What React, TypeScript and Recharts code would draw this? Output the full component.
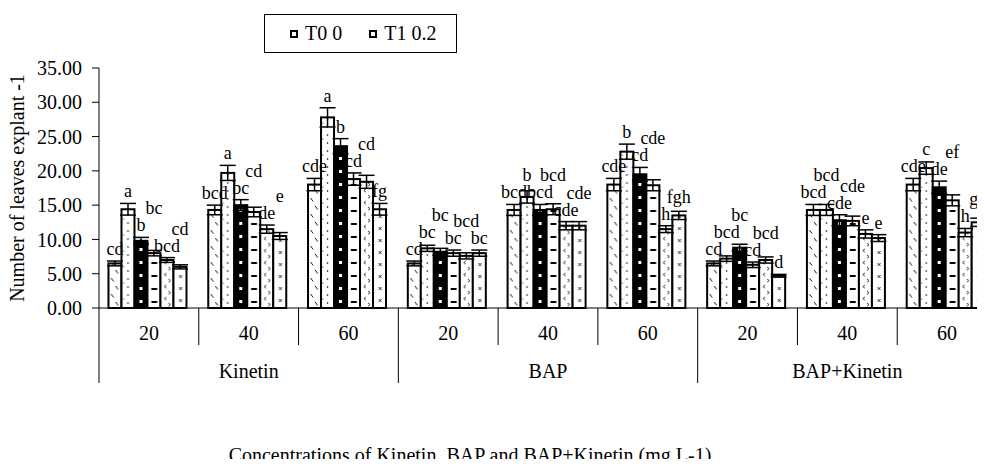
import React from 'react';
import { Bar, BarChart, ErrorBar, LabelList, XAxis, YAxis } from 'recharts';

const concentrations = ['20', '40', '60', '20', '40', '60', '20', '40', '60'];
const hormones = ['Kinetin', 'BAP', 'BAP+Kinetin'];
const seriesNames = ['T0 0', 'T1 0.2', 'T2 0.4', 'T3 0.6', 'T4 0.8', 'T5 1.0'];
const yTicks = [0, 5, 10, 15, 20, 25, 30, 35];

// mean number of leaves per explant
const t0 = [6.5, 14.3, 18.0, 6.5, 14.3, 18.0, 6.5, 14.3, 18.0];
const t1 = [14.4, 19.7, 27.8, 8.7, 16.2, 22.8, 7.2, 14.3, 20.4];
const t2 = [9.8, 15.0, 23.6, 8.2, 14.3, 19.5, 8.8, 12.8, 17.6];
const t3 = [8.0, 14.0, 18.8, 8.0, 14.4, 17.9, 6.3, 12.7, 15.7];
const t4 = [7.0, 11.5, 18.4, 7.6, 12.0, 11.5, 7.0, 10.8, 11.0];
const t5 = [6.0, 10.5, 14.4, 8.0, 12.0, 13.5, 4.7, 10.2, 12.5];

// standard errors
const t0Err = [0.35, 0.7, 0.9, 0.35, 0.8, 0.9, 0.35, 0.8, 0.9];
const t1Err = [0.85, 1.1, 1.4, 0.45, 0.9, 1.1, 0.4, 0.8, 0.9];
const t2Err = [0.5, 0.8, 1.1, 0.5, 0.8, 1.0, 0.5, 0.8, 0.9];
const t3Err = [0.4, 0.7, 0.9, 0.45, 0.8, 0.8, 0.4, 0.7, 0.8];
const t4Err = [0.35, 0.6, 0.95, 0.45, 0.6, 0.5, 0.45, 0.6, 0.6];
const t5Err = [0.3, 0.5, 0.85, 0.45, 0.6, 0.6, 0.2, 0.5, 0.6];

// significance letters
const t0Sig = ['cd', 'bcd', 'cde', 'cd', 'bcd', 'cde', 'cd', 'bcd', 'cde'];
const t1Sig = ['a', 'a', 'a', 'bc', 'b', 'b', 'bcd', 'bcd', 'c'];
const t2Sig = ['b', 'bc', 'b', 'bc', 'bcd', 'cd', 'bc', 'cde', 'de'];
const t3Sig = ['bc', 'cd', 'cd', 'bc', 'bcd', 'cde', 'cd', 'cde', 'ef'];
const t4Sig = ['bcd', 'de', 'cd', 'bcd', 'cde', 'h', 'bcd', 'e', 'h'];
const t5Sig = ['cd', 'e', 'fg', 'bc', 'cde', 'fgh', 'd', 'e', 'gh'];

const values = [t0, t1, t2, t3, t4, t5];
const errors = [t0Err, t1Err, t2Err, t3Err, t4Err, t5Err];
const letters = [t0Sig, t1Sig, t2Sig, t3Sig, t4Sig, t5Sig];

const data = concentrations.map((conc, i) => {
  const row: any = { conc, group: hormones[Math.floor(i / 3)] };
  values.forEach((v, k) => {
    row[`v${k}`] = v[i];
    row[`e${k}`] = errors[k][i];
    row[`s${k}`] = letters[k][i];
  });
  return row;
});

const FONT = 'Liberation Serif';
const CHART_W = 1010;
const CHART_H = 467;
const MARGIN = { top: 68, right: 13, bottom: 0, left: 0 };
const Y_W = 99;
const X_H = 159;
const PLOT_W = CHART_W - MARGIN.left - MARGIN.right - Y_W;
const PLOT_H = CHART_H - MARGIN.top - MARGIN.bottom - X_H;
const BAND = PLOT_W / concentrations.length;
const PX_PER_UNIT = PLOT_H / 35;
const BAR_STEP = (BAND * 0.81) / seriesNames.length;
const LETTER_SIZE = 18;

// stagger letters that would collide with a neighbour's letter
const lifts: number[][] = seriesNames.map(() => concentrations.map(() => 0));
concentrations.forEach((_, i) => {
  const finals: number[] = [];
  seriesNames.forEach((__, k) => {
    const base = -(values[k][i] + errors[k][i]) * PX_PER_UNIT;
    let y = base;
    const wk = letters[k][i].length * LETTER_SIZE * 0.48;
    for (let j = 0; j < k; j++) {
      const wj = letters[j][i].length * LETTER_SIZE * 0.48;
      if ((k - j) * BAR_STEP < (wj + wk) / 2 + 1 && Math.abs(finals[j] - y) < 17) {
        y = Math.min(y, finals[j] - 17);
      }
    }
    finals.push(y);
    lifts[k][i] = base - y;
  });
});

const makeShape = (kind: number) => (props: any) => {
  const { x, y, width: w, height: h } = props;
  if (!h || h <= 0) return <g />;
  const id = `pat${kind}-${Math.round(x * 10)}`;
  let step = 12;
  let bg = '#fff';
  let marks: React.ReactNode = null;
  if (kind === 0) {
    step = 16;
    marks = (
      <path d={`M${w * 0.2} 2 l2.5 3.5 M${w * 0.55} 10 l2.5 3.5`} stroke="#000" strokeWidth={0.9} fill="none" />
    );
  } else if (kind === 1) {
    step = 16;
    marks = (
      <>
        <circle cx={w * 0.5} cy={3} r={0.8} fill="#000" />
        <circle cx={w * 0.5} cy={11} r={0.8} fill="#000" />
        <circle cx={w * 0.15} cy={7} r={0.6} fill="#000" />
      </>
    );
  } else if (kind === 2) {
    step = 13;
    bg = '#000';
    marks = <rect x={w / 2 - 1.5} y={5} width={3} height={3} fill="#fff" />;
  } else if (kind === 3) {
    step = 13;
    marks = <rect x={w * 0.3} y={6} width={w * 0.45} height={2} fill="#000" />;
  } else if (kind === 4) {
    marks = (
      <path
        d={`M${w * 0.3 + 2} 1 l-2 1.6 l2 1.6 M${w * 0.62} 7 l2 1.6 l-2 1.6`}
        stroke="#000"
        strokeWidth={0.8}
        fill="none"
      />
    );
  } else {
    marks = (
      <path
        d={`M${w * 0.55 - 1.5} 3 l3 3 M${w * 0.55 + 1.5} 3 l-3 3`}
        stroke="#000"
        strokeWidth={0.8}
        fill="none"
      />
    );
  }
  return (
    <g>
      <defs>
        <pattern id={id} patternUnits="userSpaceOnUse" x={x} y={y + h} width={w} height={step}>
          <rect width={w} height={step} fill={bg} />
          {marks}
        </pattern>
      </defs>
      <rect x={x} y={y} width={w} height={h} fill={`url(#${id})`} stroke="#000" strokeWidth={2} />
    </g>
  );
};

const makeLetter = (k: number) => (props: any) => {
  const { x, y, width, value, index } = props;
  const errPx = (data[index] ? data[index][`e${k}`] : 0) * PX_PER_UNIT;
  const lift = lifts[k][index] || 0;
  return (
    <text
      x={x + width / 2}
      y={y - errPx - 6 - lift}
      textAnchor="middle"
      fontSize={LETTER_SIZE}
      fontFamily={FONT}
      fill="#000"
    >
      {value}
    </text>
  );
};

const CategoryTick = (props: any) => {
  const { x, y, index, payload } = props;
  const half = BAND / 2;
  const groupEnd = index % 3 === 2;
  return (
    <g>
      <text x={x} y={y + 32} textAnchor="middle" fontSize={20} fontFamily={FONT} fill="#000">
        {payload.value}
      </text>
      {index % 3 === 1 && (
        <text x={x} y={y + 70} textAnchor="middle" fontSize={20} fontFamily={FONT} fill="#000">
          {hormones[Math.floor(index / 3)]}
        </text>
      )}
      <line x1={x + half} x2={x + half} y1={y} y2={y + (groupEnd ? 75 : 37)} stroke="#000" />
      {index === 0 && <line x1={x - half} x2={x - half} y1={y} y2={y + 75} stroke="#000" />}
    </g>
  );
};

const YTitle = (props: any) => {
  const vb = props.viewBox || { y: MARGIN.top, height: PLOT_H };
  const cy = vb.y + vb.height / 2;
  return (
    <text transform={`translate(24, ${cy}) rotate(-90)`} textAnchor="middle" fontSize={20} fontFamily={FONT} fill="#000">
      Number of leaves explant -1
    </text>
  );
};

const XTitle = () => (
  <text x={470} y={462} textAnchor="middle" fontSize={20} fontFamily={FONT} fill="#000">
    Concentrations of Kinetin, BAP and BAP+Kinetin (mg L-1)
  </text>
);

const App: React.FC = () => {
  return (
    <div style={{ position: 'relative', width: 985, height: 467, margin: -8, overflow: 'hidden', background: '#fff' }}>
      <BarChart
        width={CHART_W}
        height={CHART_H}
        data={data}
        margin={MARGIN}
        barCategoryGap="9.5%"
        barGap={0}
      >
        <XAxis
          dataKey="conc"
          height={X_H}
          tickSize={0}
          tickMargin={0}
          tickLine={false}
          axisLine={{ stroke: '#000' }}
          tick={<CategoryTick />}
          interval={0}
          label={<XTitle />}
        />
        <YAxis
          width={Y_W}
          domain={[0, 35]}
          ticks={yTicks}
          tickFormatter={(v) => v.toFixed(2)}
          tick={{ fontSize: 20, fill: '#000', fontFamily: FONT }}
          tickSize={7}
          tickMargin={10}
          axisLine={{ stroke: '#000' }}
          tickLine={{ stroke: '#000' }}
          label={<YTitle />}
        />
        {seriesNames.map((name, k) => (
          <Bar key={name} dataKey={`v${k}`} name={name} shape={makeShape(k)} isAnimationActive={false}>
            <ErrorBar dataKey={`e${k}`} width={8} stroke="#000" strokeWidth={1.5} />
            <LabelList dataKey={`s${k}`} content={makeLetter(k)} />
          </Bar>
        ))}
      </BarChart>
      <div
        style={{
          position: 'absolute',
          left: 264,
          top: 14,
          width: 193,
          height: 39,
          boxSizing: 'border-box',
          border: '1px solid #000',
          display: 'flex',
          alignItems: 'center',
          paddingLeft: 25,
          gap: 27,
          fontFamily: FONT,
          fontSize: 20,
          background: '#fff',
        }}
      >
        {seriesNames.slice(0, 2).map((name) => (
          <div key={name} style={{ display: 'flex', alignItems: 'center', whiteSpace: 'nowrap' }}>
            <span
              style={{
                display: 'inline-block',
                width: 8,
                height: 8,
                boxSizing: 'border-box',
                border: '2px solid #000',
                marginRight: 7,
              }}
            />
            {name}
          </div>
        ))}
      </div>
    </div>
  );
};

export default App;
